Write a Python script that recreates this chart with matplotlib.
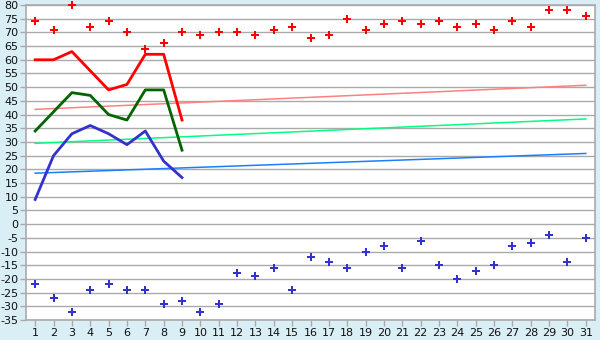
import numpy as np
import matplotlib
matplotlib.use("Agg")
import matplotlib.pyplot as plt

plt.rcParams["axes.unicode_minus"] = False

days = list(range(1, 32))

# daily scatter points
high_pts = [74, 71, 80, 72, 74, 70, 64, 66, 70, 69, 70, 70, 69, 71, 72, 68,
            69, 75, 71, 73, 74, 73, 74, 72, 73, 71, 74, 72, 78, 78, 76]
low_pts = [-22, -27, -32, -24, -22, -24, -24, -29, -28, -32, -29, -18, -19, -16,
           -24, -12, -14, -16, -10, -8, -16, -6, -15, -20, -17, -15, -8, -7,
           -4, -14, -5]

# lines for first 9 days
line_days = list(range(1, 10))
red_line = [60, 60, 63, 56, 49, 51, 62, 62, 38]
green_line = [34, 41, 48, 47, 40, 38, 49, 49, 27]
blue_line = [9, 25, 33, 36, 33, 29, 34, 23, 17]

# trend lines (start at day 1, end at day 31)
trend_x = [1, 31]
red_trend = [41.9, 50.7]
green_trend = [29.5, 38.4]
blue_trend = [18.6, 25.8]

bg = "#d9eef5"
grid_col = "#aaaaaa"

fig = plt.figure(figsize=(6, 3.4), dpi=100, facecolor=bg)
ax = fig.add_axes([26 / 600, 1 - 320 / 340, 569 / 600, 315 / 340])
ax.set_facecolor("white")

ax.plot(trend_x, red_trend, color="#ff8080", lw=1.1, zorder=2)
ax.plot(trend_x, green_trend, color="#00ff80", lw=1.1, zorder=2)
ax.plot(trend_x, blue_trend, color="#1a7fff", lw=1.1, zorder=2)

ax.plot(line_days, red_line, color="#ff0000", lw=2, zorder=3)
ax.plot(line_days, green_line, color="#006400", lw=2, zorder=3)
ax.plot(line_days, blue_line, color="#3333cc", lw=2, zorder=3)

ax.plot(days, high_pts, ls="none", marker="P", ms=6, color="#ff0000",
        mew=0, zorder=4, clip_on=False)
ax.plot(days, low_pts, ls="none", marker="P", ms=6, color="#3333cc",
        mew=0, zorder=4, clip_on=False)

ax.set_xlim(0.5, 31.5)
ax.set_ylim(-35, 80)
ax.set_xticks(days)
ax.set_yticks(np.arange(-35, 81, 5))
ax.yaxis.grid(True, color=grid_col, lw=1)
ax.set_axisbelow(True)
ax.tick_params(axis="both", labelsize=8, color=grid_col, length=4,
               width=1, pad=1.5, labelcolor="#111111")
for s in ax.spines.values():
    s.set_color(grid_col)
    s.set_linewidth(1.2)

fig.savefig("out.png", dpi=100, facecolor=bg)
